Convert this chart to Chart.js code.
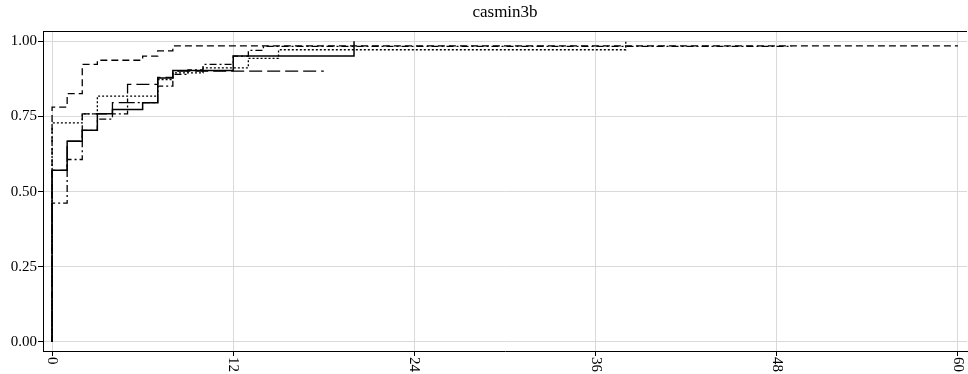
<!DOCTYPE html>
<html>
<head>
<meta charset="utf-8">
<script src="https://cdn.jsdelivr.net/npm/chart.js@4/dist/chart.umd.min.js"></script>
<style>
	body { margin: 0; background: #fff; }
	#wrap { width: 968px; height: 374px; position: relative; }
</style>
</head>
<body>
<div id="wrap"><canvas id="km"></canvas></div>
<script>
// tick values
const xTicks = [0, 12, 24, 36, 48, 60];
const yTicks = [0, 0.25, 0.5, 0.75, 1];

// step curves, one pair of arrays per line (time, value)
const solidT = [0, 0, 1, 2, 3, 4, 6, 7, 8, 12, 20];
const solidS = [0, 0.571, 0.668, 0.704, 0.759, 0.773, 0.796, 0.878, 0.903, 0.951, 1.0];

const dashT = [0, 0, 1, 2, 3, 6, 7, 8, 60];
const dashS = [0, 0.781, 0.826, 0.923, 0.937, 0.951, 0.968, 0.985, 0.985];

const dotT = [0, 0, 2, 3, 7, 8, 10, 13, 15, 38];
const dotS = [0, 0.729, 0.759, 0.818, 0.873, 0.895, 0.912, 0.943, 0.972, 1.0];

const dashDotT = [0, 0, 1, 2, 3, 4, 5, 7, 8, 9, 10, 12, 13, 14, 49];
const dashDotS = [0, 0.462, 0.607, 0.704, 0.741, 0.759, 0.796, 0.851, 0.89, 0.905, 0.923, 0.951, 0.97, 0.983, 0.983];

const longDashT = [0, 0, 1, 2, 4, 5, 7, 8, 18];
const longDashS = [0, 0.571, 0.668, 0.759, 0.796, 0.857, 0.88, 0.901, 0.901];

const toPts = (t, s) => t.map((v, i) => ({ x: v, y: s[i] }));

const serif = '"Liberation Serif", "Times New Roman", serif';

const line = (label, t, s, dash, width) => ({
	label,
	data: toPts(t, s),
	stepped: true,
	borderColor: '#000',
	borderWidth: width,
	borderDash: dash,
	pointRadius: 0,
	fill: false,
});

// top frame line and x labels turned clockwise
const framePlugin = {
	id: 'frame',
	afterDraw(chart) {
		const { ctx, chartArea: a, scales: { x } } = chart;
		ctx.save();
		ctx.strokeStyle = '#000';
		ctx.lineWidth = 1;
		ctx.beginPath();
		ctx.moveTo(a.left, Math.round(a.top) + 0.5);
		ctx.lineTo(a.right, Math.round(a.top) + 0.5);
		ctx.stroke();
		ctx.font = '15px ' + serif;
		ctx.fillStyle = '#000';
		ctx.textAlign = 'left';
		ctx.textBaseline = 'middle';
		x.ticks.forEach(tk => {
			const px = x.getPixelForValue(tk.value);
			ctx.save();
			ctx.translate(px, a.bottom + 6);
			ctx.rotate(Math.PI / 2);
			ctx.fillText(String(tk.value), 0, 0);
			ctx.restore();
		});
		ctx.restore();
	}
};

new Chart(document.getElementById('km').getContext('2d'), {
	type: 'line',
	data: {
		datasets: [
			line('solid', solidT, solidS, [], 1.5),
			line('dash', dashT, dashS, [7, 4], 1.3),
			line('dot', dotT, dotS, [2, 2], 1.3),
			line('dashdot', dashDotT, dashDotS, [7, 3, 2, 3], 1.3),
			line('longdash', longDashT, longDashS, [13, 5], 1.3),
		],
	},
	options: {
		responsive: true,
		maintainAspectRatio: false,
		animation: false,
		layout: { padding: { top: 0, right: 1, left: 0, bottom: 0 } },
		plugins: {
			legend: { display: false },
			tooltip: { enabled: false },
			title: {
				display: true,
				text: 'casmin3b',
				fullSize: false,
				color: '#000',
				font: { family: serif, size: 17, weight: 'normal' },
				padding: { top: 2, bottom: 9 },
			},
		},
		scales: {
			x: {
				type: 'linear',
				min: -0.6,
				max: 60.6,
				afterBuildTicks: s => { s.ticks = xTicks.map(v => ({ value: v })); },
				afterFit: s => { s.height = 23; },
				ticks: { display: false },
				grid: { color: '#d9d9d9', tickColor: '#000', tickLength: 5 },
				border: { display: true, color: '#000', width: 1 },
			},
			y: {
				type: 'linear',
				min: -0.03,
				max: 1.033,
				afterBuildTicks: s => { s.ticks = yTicks.map(v => ({ value: v })); },
				afterFit: s => { s.width = 43; },
				ticks: {
					color: '#000',
					padding: 1,
					font: { family: serif, size: 15 },
					callback: v => Number(v).toFixed(2),
				},
				grid: { color: '#d9d9d9', tickColor: '#000', tickLength: 5 },
				border: { display: true, color: '#000', width: 1 },
			},
		},
	},
	plugins: [framePlugin],
});
</script>
</body>
</html>
